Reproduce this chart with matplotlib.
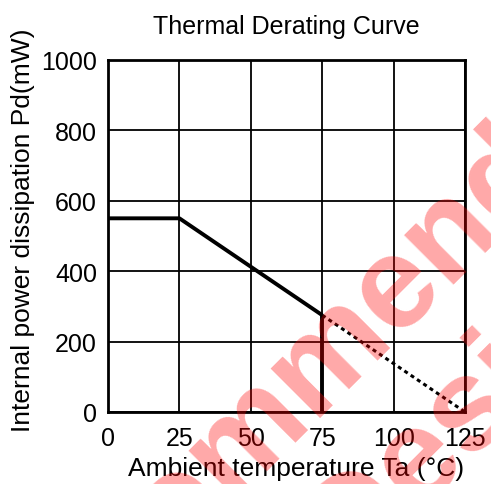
import matplotlib.pyplot as plt

plt.rcParams['font.family'] = ['Liberation Sans', 'DejaVu Sans']

# derating curve (solid), extension to 125C (dashed), cutoff at 75C
temp_solid = [0, 25, 75]
pd_solid = [550, 550, 275]
temp_dash = [75, 125]
pd_dash = [275, 0]
temp_cut = [75, 75]
pd_cut = [0, 275]

x_ticks = [0, 25, 50, 75, 100, 125]
y_ticks = [0, 200, 400, 600, 800, 1000]

fig = plt.figure(figsize=(4.91, 4.85), dpi=100)
ax = fig.add_axes([0.22, 0.1485, 0.727, 0.726])

ax.plot(temp_solid, pd_solid, color='black', lw=2.8, solid_capstyle='butt')
ax.plot(temp_dash, pd_dash, color='black', lw=2.2, linestyle=(0, (1.3, 1.2)))
ax.plot(temp_cut, pd_cut, color='black', lw=2.8, solid_capstyle='butt')

ax.set_xlim(0, 125)
ax.set_ylim(0, 1000)
ax.set_xticks(x_ticks)
ax.set_yticks(y_ticks)
ax.tick_params(length=0, labelsize=18)
ax.tick_params(axis='x', pad=10)
ax.tick_params(axis='y', pad=8)
ax.grid(True, color='black', lw=1.3)
ax.set_axisbelow(True)
for s in ax.spines.values():
    s.set_linewidth(2)

ax.set_xlabel('Ambient temperature Ta (°C)', fontsize=19)
ax.set_ylabel('Internal power dissipation Pd(mW)', fontsize=19)
ax.xaxis.set_label_coords(0.527, -0.125)
ax.yaxis.set_label_coords(-0.205, 0.52)
ax.set_title('Thermal Derating Curve', fontsize=18, pad=19)

# watermark
wm = dict(fontsize=94, fontweight='bold', color='red', alpha=0.34,
          rotation=45, rotation_mode='anchor', ha='center', va='center',
          zorder=10)
fig.text(223 / 491, 1 - 466 / 485, 'Not Recommended', **wm)
fig.text(300 / 491, 1 - 585 / 485, 'for New Design', **wm)

fig.savefig('out.png', dpi=100)
